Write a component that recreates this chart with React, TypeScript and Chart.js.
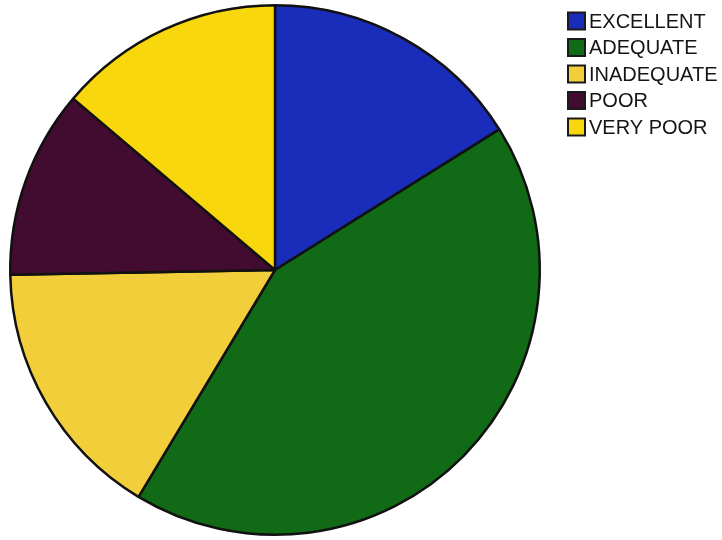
import React, { useEffect, useRef } from "react";
import { Chart, registerables } from "chart.js";

Chart.register(...registerables);

const categories = ["EXCELLENT", "ADEQUATE", "INADEQUATE", "POOR", "VERY POOR"];
const values = [14, 37, 14, 10, 12];
const colors = ["#1a2cba", "#116a16", "#f2cf3a", "#420c30", "#f8d70c"];

const legendPlugin = {
  id: "sideLegend",
  afterDraw(chart: any) {
    const ctx = chart.ctx;
    const labels: string[] = chart.data.labels;
    const bg: string[] = chart.data.datasets[0].backgroundColor;
    const x0 = 568;
    const y0 = 21;
    const step = 26.5;
    const box = 17;
    ctx.save();
    ctx.font = '20px "Liberation Sans", Arial, sans-serif';
    ctx.textBaseline = "middle";
    ctx.textAlign = "left";
    labels.forEach((lab, i) => {
      const cy = y0 + i * step;
      ctx.fillStyle = bg[i];
      ctx.fillRect(x0, cy - box / 2, box, box);
      ctx.lineWidth = 2;
      ctx.strokeStyle = "#1a1a1a";
      ctx.strokeRect(x0, cy - box / 2, box, box);
      ctx.fillStyle = "#151515";
      ctx.fillText(lab, x0 + 21, cy + 1);
    });
    ctx.restore();
  },
};

export default function App() {
  const ref = useRef<HTMLCanvasElement>(null);
  useEffect(() => {
    if (!ref.current) return;
    const chart = new Chart(ref.current, {
      type: "pie",
      data: {
        labels: categories,
        datasets: [
          {
            data: values,
            backgroundColor: colors,
            borderColor: "#111111",
            borderWidth: 2.5,
          },
        ],
      },
      options: {
        responsive: false,
        animation: false,
        layout: { padding: { left: 9, right: 181, top: 4, bottom: 4 } },
        plugins: {
          legend: { display: false },
          tooltip: { enabled: false },
        },
      },
      plugins: [legendPlugin],
    });
    return () => chart.destroy();
  }, []);
  return (
    <div style={{ position: "absolute", left: 0, top: 0, width: 722, height: 540, background: "#ffffff" }}>
      <canvas ref={ref} width={722} height={540} />
    </div>
  );
}
